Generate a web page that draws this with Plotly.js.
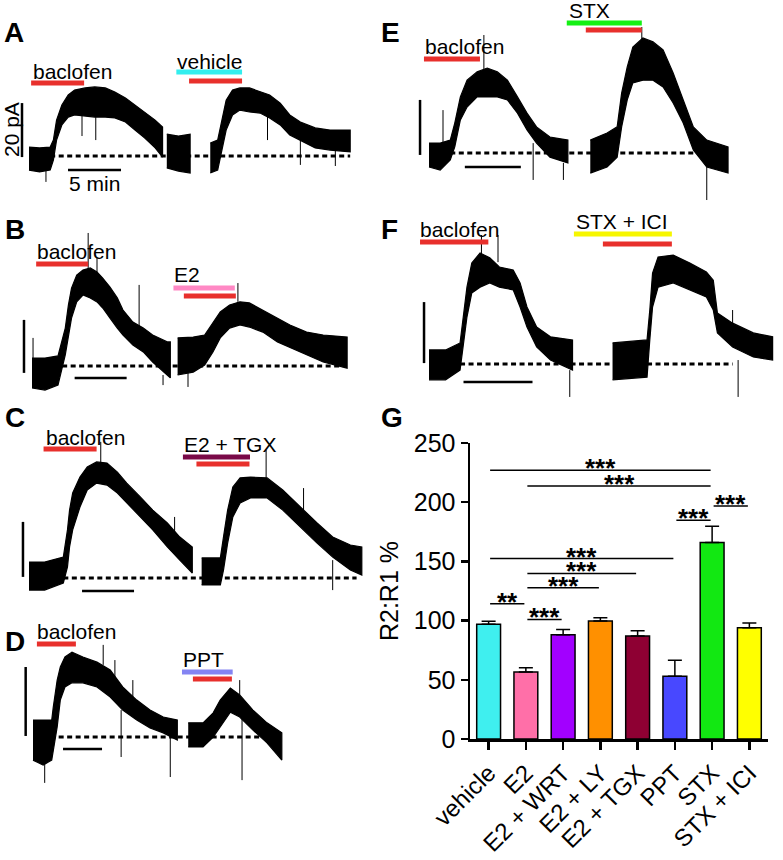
<!DOCTYPE html>
<html><head><meta charset="utf-8">
<script src="https://cdn.plot.ly/plotly-3.0.1.min.js"></script>
<style>html,body{margin:0;padding:0;background:#fff}#chart{width:783px;height:860px}</style>
</head><body><div id="chart"></div>
<script>
// ================= DATA =================
// Panel G: R2:R1 ratio (%)
const categories = ['vehicle', 'E2', 'E2 + WRT', 'E2 + LY', 'E2 + TGX', 'PPT', 'STX', 'STX + ICI'];
const ratioMean = [97, 56.5, 88, 99.6, 87, 53, 166, 94];
const ratioSEM = [2.5, 3.7, 4.5, 2.8, 4.5, 13.5, 13.7, 4.0];
const barColors = ['#3FEFEF', '#FF6FA8', '#A200FF', '#FF9000', '#8E0033', '#4848FF', '#12E812', '#FFFF00'];
// significance comparisons (category index from/to, bracket level in %, label)
const sigFrom = [0, 1, 6, 5, 0, 1, 1, 0, 1];
const sigTo = [6, 6, 7, 6, 5, 4, 3, 1, 2];
const sigLevel = [227, 213.7, 196.8, 184.8, 152.4, 139.8, 127.7, 114.2, 101];
const sigLabel = ['***', '***', '***', '***', '***', '***', '***', '**', '***'];

// Current traces: time (min), upper / lower noise envelope (pA, relative to baseline)
// Panel A
const tA1 = [0, 1.0, 2.0, 2.3, 2.6, 3.1, 3.7, 4.3, 5.3, 6.2, 7.2, 8.1, 9.1, 10.0, 10.9, 11.9, 12.6];
const upA1 = [3.3, 3.0, 3.3, 5.9, 13.3, 18.9, 22.6, 24.4, 25.2, 25.6, 25.2, 23.7, 21.5, 18.9, 16.3, 13.3, 10.7];
const loA1 = [-5.2, -5.9, -5.2, -1.5, 5.9, 11.5, 14.4, 15.2, 14.8, 14.4, 14.4, 14.1, 12.6, 9.6, 6.7, 3.0, -0.4];
const tA2 = [13.0, 14.1, 15.2];
const upA2 = [8.1, 7.4, 8.1];
const loA2 = [-4.4, -5.6, -6.3];
const tA3 = [17.1, 17.8, 18.2, 18.6, 19.2, 19.9, 20.8, 21.8, 22.7, 23.7, 24.6, 25.6, 27.0, 28.4, 30.3];
const upA3 = [4.8, 5.9, 13.3, 20.7, 24.4, 25.2, 25.2, 23.7, 22.6, 19.6, 15.2, 12.6, 10.4, 9.6, 9.6];
const loA3 = [-6.3, -5.2, 2.2, 9.6, 15.2, 17.0, 16.3, 15.9, 14.1, 11.5, 7.8, 5.9, 3.0, 2.2, 1.5];
const spkTA = [5.0, 6.3, 22.5, 25.6, 28.9, 1.6];
const spkFromA = [15.2, 14.4, 15.9, 5.9, 2.2, -3.3];
const spkToA = [7.4, 5.9, 5.9, -3.3, -3.7, -9.6];
const appA = [[0.2, 5.2], [13.9, 20.1], [15.1, 20.1]]; // baclofen, vehicle, baclofen
// Panel B
const tB1 = [0, 1.25, 2.5, 3.2, 3.5, 3.8, 4.3, 4.9, 5.6, 6.25, 6.8, 7.5, 8.2, 8.75, 9.7, 10.7, 11.6, 13.0, 13.3];
const upB1 = [3.0, 3.0, 3.8, 14.3, 23.0, 29.4, 34.3, 36.2, 37.0, 35.5, 33.2, 29.8, 25.7, 21.1, 16.6, 14.3, 11.7, 9.1, 9.1];
const loB1 = [-8.3, -9.1, -7.2, 4.2, 11.7, 18.1, 24.2, 26.8, 25.7, 24.2, 21.9, 18.1, 14.3, 11.7, 7.9, 5.3, 1.5, -3.4, -4.5];
const tB2 = [14.0, 15.5, 16.6, 17.4, 18.1, 19.0, 20.0, 20.9, 22.2, 23.6, 24.8, 26.4, 28.0, 30.3];
const upB2 = [10.6, 10.9, 11.7, 16.6, 20.4, 23.0, 24.2, 23.8, 21.1, 18.1, 15.5, 12.8, 11.7, 10.9];
const loB2 = [-3.4, -2.3, 0.4, 5.3, 10.6, 14.3, 15.5, 14.7, 12.8, 9.1, 6.8, 4.2, 1.5, -0.8];
const spkTB = [5.4, 6.25, 10.3, 19.8, 12.6, 15.0, 0.1];
const spkFromB = [37.0, 35.5, 14.3, 24.2, -3.4, -2.3, 3.0];
const spkToB = [50.2, 40.8, 30.6, 31.3, -7.2, -7.9, 10.6];
const appB = [[0.4, 5.4], [13.6, 19.5], [14.6, 19.6]]; // baclofen, E2, baclofen
// Panel C
const tC1 = [0, 1.5, 3.3, 3.7, 3.9, 4.2, 4.9, 5.6, 6.5, 7.5, 8.5, 9.4, 10.7, 11.9, 13.3, 14.5, 15.7];
const upC1 = [5.8, 5.8, 7.6, 17.5, 24.7, 30.9, 36.7, 40.4, 42.2, 41.8, 38.5, 34.5, 29.5, 24.7, 20.0, 14.9, 11.3];
const loC1 = [-4.4, -4.4, -1.8, 4.0, 11.3, 17.5, 25.8, 32.0, 34.5, 33.8, 30.9, 27.3, 22.2, 17.5, 11.3, 6.5, 1.8];
const tC2 = [16.6, 18.4, 18.7, 19.1, 19.6, 20.3, 21.3, 22.9, 24.4, 26.1, 27.7, 29.2, 30.9, 32.0];
const upC2 = [7.3, 7.3, 14.9, 24.7, 33.1, 36.4, 36.7, 36.4, 32.0, 25.8, 20.0, 14.9, 12.0, 11.3];
const loC2 = [-2.5, -2.5, 2.9, 12.7, 22.2, 27.3, 29.1, 29.1, 24.7, 18.5, 12.7, 7.6, 2.9, 1.1];
const spkTC = [6.9, 14.0, 22.8, 26.4, 29.2];
const spkFromC = [41.8, 13.8, 36.4, 24.7, 6.5];
const spkToC = [49.5, 22.2, 46.5, 32.7, -4.4];
const appC = [[1.4, 6.5], [14.8, 21.25], [16.1, 21.2]]; // baclofen, E2 + TGX, baclofen
// Panel D
const tD1 = [0, 1.3, 2.4, 2.6, 3.1, 3.5, 4.1, 5.0, 6.4, 8.2, 9.9, 11.5, 13.3, 15.0, 16.7, 18.5];
const upD1 = [4.9, 4.9, 4.9, 8.7, 16.5, 20.3, 23.2, 24.6, 23.2, 21.7, 19.4, 14.5, 10.7, 7.8, 5.8, 4.9];
const loD1 = [-6.7, -8.1, -6.7, -4.6, 2.9, 10.7, 14.5, 15.7, 15.7, 14.5, 11.6, 7.8, 4.9, 2.6, 1.2, -0.9];
const tD2 = [19.9, 21.8, 23.1, 24.0, 25.3, 26.5, 28.2, 30.0, 31.9];
const upD2 = [4.1, 4.1, 7.0, 10.7, 14.2, 12.2, 7.8, 4.1, 1.2];
const loD2 = [-2.9, -2.9, 0, 2.9, 7.2, 5.8, 2.0, -1.7, -6.7];
const spkTD = [9.0, 10.5, 12.8, 11.3, 17.6, 26.5, 26.8, 1.5];
const spkFromD = [20.9, 16.5, 10.7, 7.8, 0.6, 12.2, 5.8, -6.7];
const spkToD = [26.7, 22.3, 16.5, -5.8, -11.6, 16.5, -12.5, -13.3];
const appD = [[0.5, 5.5], [19.1, 25.6], [20.5, 25.5]]; // baclofen, PPT, baclofen
// Panel E
const tE1 = [0, 1.0, 1.9, 2.3, 2.8, 3.4, 4.3, 5.2, 6.1, 7.0, 7.9, 8.75, 9.6, 10.8, 12.4];
const upE1 = [3.6, 3.6, 4.7, 10.9, 20.4, 26.5, 29.5, 30.9, 29.5, 26.5, 20.4, 14.5, 9.5, 5.8, 4.7];
const loE1 = [-5.1, -6.2, -2.5, 2.2, 12.0, 16.7, 20.4, 20.4, 20.4, 19.3, 14.5, 8.4, 3.6, -1.5, -3.6];
const tE2 = [14.4, 15.9, 16.8, 17.2, 17.7, 18.2, 19.1, 20.0, 20.9, 21.8, 22.7, 23.6, 24.8, 26.7];
const upE2 = [4.7, 7.3, 9.5, 21.8, 31.3, 38.5, 41.8, 40.4, 37.5, 29.1, 19.3, 9.5, 4.7, 2.2];
const loE2 = [-7.3, -5.1, -1.5, 9.5, 19.3, 25.5, 26.5, 26.5, 24.0, 18.2, 10.9, 1.1, -5.1, -7.3];
const spkTE = [4.9, 1.25, 19.0, 24.8, 9.3, 12.0];
const spkFromE = [30.2, 3.6, 41.1, -5.1, 3.6, -3.6];
const spkToE = [42.9, 15.6, 45.8, -17.1, -9.8, -9.8];
const appE = [[-0.45, 4.55], [12.3, 19.0], [14.0, 19.0]]; // baclofen, STX, baclofen
// Panel F
const tF1 = [0, 1.2, 2.25, 2.5, 2.75, 3.1, 3.7, 4.4, 5.1, 6.1, 6.6, 7.1, 7.8, 8.8, 10.4];
const upF1 = [4.6, 4.6, 6.9, 16.7, 25.2, 33.1, 36.4, 34.8, 31.8, 30.8, 26.6, 18.7, 12.1, 8.9, 7.9];
const loF1 = [-5.2, -5.2, -2.0, 6.9, 15.4, 23.3, 25.2, 26.6, 25.2, 24.3, 18.7, 12.1, 5.6, 1.3, -2.0];
const tF2 = [13.3, 15.8, 16.0, 16.2, 16.6, 17.7, 18.9, 20.1, 20.6, 20.9, 22.0, 23.5, 24.9];
const upF2 = [6.9, 7.9, 17.7, 29.8, 35.1, 35.7, 33.1, 30.2, 27.5, 16.7, 13.4, 10.2, 8.9];
const loF2 = [-5.2, -4.3, 7.9, 18.7, 25.2, 26.6, 24.3, 22.0, 17.7, 10.2, 5.6, 2.3, 1.3];
const spkTF = [3.8, 5.0, 22.0, 22.4, 10.2];
const spkFromF = [35.7, 33.4, 12.8, 1.3, -2.0];
const spkToF = [42.3, 42.3, 17.7, -10.8, -10.8];
const appF = [[-0.65, 4.3], [10.5, 17.6], [12.6, 17.6]]; // baclofen, STX + ICI, baclofen

const scaleBarPA = 20;   // vertical scale bar (pA)
const scaleBarMin = 5;   // horizontal scale bar (min)

// ================= LAYOUT / STYLE =================
const W = 783, H = 860;
const FONT = 'Liberation Sans, Arial, Helvetica, sans-serif';
const px = x => x / W;
const py = y => 1 - y / H;
const RED = '#E8302C';

const panels = [
  { n: 2, letter: 'A', letterPos: [3, 43], geo: { x0: 29, ppm: 10.6, y0: 156, ppa: 2.7 },
    segs: [[tA1, upA1, loA1], [tA2, upA2, loA2], [tA3, upA3, loA3]], spk: [spkTA, spkFromA, spkToA],
    dash: [2.0, 30.3], vbar: [-0.66, -0.4], hbar: [3.68, -5.2],
    apps: appA, appColors: [RED, '#33EEEE', RED], appY: [83, 72, 81],
    labels: [['baclofen', 32, 80], ['vehicle', 176, 70]] },
  { n: 3, letter: 'B', letterPos: [4, 240], geo: { x0: 32, ppm: 10.4, y0: 366, ppa: 2.65 },
    segs: [[tB1, upB1, loB1], [tB2, upB2, loB2]], spk: [spkTB, spkFromB, spkToB],
    dash: [2.9, 29.9], vbar: [-0.77, -2.6], hbar: [4.1, -4.5],
    apps: appB, appColors: [RED, '#FF88C4', RED], appY: [264, 288, 296],
    labels: [['baclofen', 36, 260], ['E2', 173, 283]] },
  { n: 4, letter: 'C', letterPos: [4, 428], geo: { x0: 29, ppm: 10.4, y0: 578, ppa: 2.75 },
    segs: [[tC1, upC1, loC1], [tC2, upC2, loC2]], spk: [spkTC, spkFromC, spkToC],
    dash: [3.3, 31.5], vbar: [-0.58, 0.4], hbar: [5.1, -4.7],
    apps: appC, appColors: [RED, '#7A0A48', RED], appY: [449, 457, 464],
    labels: [['baclofen', 45, 446], ['E2 + TGX', 183, 453]] },
  { n: 5, letter: 'D', letterPos: [4, 652], geo: { x0: 33, ppm: 7.8, y0: 737, ppa: 3.45 },
    segs: [[tD1, upD1, loD1], [tD2, upD2, loD2]], spk: [spkTD, spkFromD, spkToD],
    dash: [2.2, 29.5], vbar: [-0.94, 0.3], hbar: [3.85, -3.5],
    apps: appD, appColors: [RED, '#8484F2', RED], appY: [644, 672, 679],
    labels: [['baclofen', 36, 640], ['PPT', 182, 668]] },
  { n: 6, letter: 'E', letterPos: [380, 43], geo: { x0: 429, ppm: 11.2, y0: 153, ppa: 2.75 },
    segs: [[tE1, upE1, loE1], [tE2, upE2, loE2]], spk: [spkTE, spkFromE, spkToE],
    dash: [1.9, 23.6], vbar: [-0.8, -0.7], hbar: [3.2, -5.1],
    apps: appE, appColors: [RED, '#14F014', RED], appY: [59, 23, 30],
    labels: [['baclofen', 424, 55], ['STX', 568, 19]] },
  { n: 7, letter: 'F', letterPos: [380, 240], geo: { x0: 429, ppm: 13.8, y0: 364, ppa: 3.05 },
    segs: [[tF1, upF1, loF1], [tF2, upF2, loF2]], spk: [spkTF, spkFromF, spkToF],
    dash: [2.25, 22.0], vbar: [-0.36, 0.3], hbar: [2.5, -5.9],
    apps: appF, appColors: [RED, '#F6F600', RED], appY: [242, 234, 244],
    labels: [['baclofen', 419, 238], ['STX + ICI', 575, 230]] }
];

const traces = [];
const shapes = [];
const annotations = [];
const layout = {
  width: W, height: H, margin: { l: 0, r: 0, t: 0, b: 0 },
  paper_bgcolor: '#fff', plot_bgcolor: 'rgba(0,0,0,0)', showlegend: false,
  font: { family: FONT, color: '#000' }
};

function textAt(text, left, base, size) {
  return { xref: 'paper', yref: 'paper', x: px(left), y: py(base + 0.212 * size), borderpad: 0,
    xanchor: 'left', yanchor: 'bottom', text: text, showarrow: false,
    font: { family: FONT, size: size, color: '#000' } };
}

panels.forEach(p => {
  const g = p.geo, xa = 'x' + p.n, ya = 'y' + p.n;
  layout['xaxis' + p.n] = { domain: [0, 1], range: [-g.x0 / g.ppm, (W - g.x0) / g.ppm], visible: false, fixedrange: true, anchor: ya };
  layout['yaxis' + p.n] = { domain: [0, 1], range: [(g.y0 - H) / g.ppa, g.y0 / g.ppa], visible: false, fixedrange: true, anchor: xa };
  // baseline (0 pA)
  shapes.push({ type: 'line', xref: xa, yref: ya, x0: p.dash[0], x1: p.dash[1], y0: 0, y1: 0, layer: 'below',
    line: { color: '#000', width: 3, dash: '5px,3.5px' } });
  // recording segments (noise envelope)
  p.segs.forEach(s => {
    const [t, up, lo] = s;
    traces.push({ type: 'scatter', mode: 'lines', xaxis: xa, yaxis: ya,
      x: t.concat(t.slice().reverse()), y: up.concat(lo.slice().reverse()),
      fill: 'toself', fillcolor: '#000', line: { color: '#000', width: 1.2 }, hoverinfo: 'skip' });
  });
  // transient spikes
  const sx = [], sy = [];
  p.spk[0].forEach((t, i) => { sx.push(t, t, null); sy.push(p.spk[1][i], p.spk[2][i], null); });
  traces.push({ type: 'scatter', mode: 'lines', xaxis: xa, yaxis: ya, x: sx, y: sy,
    line: { color: '#000', width: 1 }, hoverinfo: 'skip', connectgaps: false });
  // scale bars
  shapes.push({ type: 'line', xref: xa, yref: ya, x0: p.vbar[0], x1: p.vbar[0], y0: p.vbar[1], y1: p.vbar[1] + scaleBarPA,
    line: { color: '#000', width: 2.5 } });
  shapes.push({ type: 'line', xref: xa, yref: ya, x0: p.hbar[0], x1: p.hbar[0] + scaleBarMin, y0: p.hbar[1], y1: p.hbar[1],
    line: { color: '#000', width: 2.5 } });
  // drug application bars
  p.apps.forEach((a, i) => {
    shapes.push({ type: 'line', xref: xa, yref: 'paper', x0: a[0], x1: a[1], y0: py(p.appY[i]), y1: py(p.appY[i]),
      line: { color: p.appColors[i], width: 5 } });
  });
  p.labels.forEach(l => annotations.push(textAt(l[0], l[1], l[2], 21)));
  annotations.push(textAt('<b>' + p.letter + '</b>', p.letterPos[0], p.letterPos[1], 28));
});

// Panel A scale bar labels
annotations.push({ xref: 'paper', yref: 'paper', x: px(11), y: py(130), xanchor: 'center', yanchor: 'middle',
  text: '20 pA', textangle: -90, showarrow: false, font: { family: FONT, size: 21, color: '#000' } });
annotations.push(textAt('5 min', 68, 192, 21));
annotations.push(textAt('<b>G</b>', 380, 428, 28));

// ===== Panel G bar chart =====
traces.push({ type: 'bar', x: categories, y: ratioMean, xaxis: 'x', yaxis: 'y', width: 0.64,
  marker: { color: barColors, line: { color: '#000', width: 1.5 } },
  error_y: { type: 'data', symmetric: false, array: ratioSEM, arrayminus: ratioSEM.map(() => 0),
    color: '#000', thickness: 1.5, width: 7 },
  hoverinfo: 'skip' });

layout.xaxis = { domain: [px(470), px(768)], anchor: 'y', type: 'category', range: [-0.5, 7.5],
  showline: true, linecolor: '#000', linewidth: 2.5, ticks: 'outside', ticklen: 8, tickwidth: 2.5, tickcolor: '#000',
  tickangle: -45, tickfont: { family: FONT, size: 24, color: '#000' }, showgrid: false, zeroline: false, fixedrange: true };
layout.yaxis = { domain: [py(739), py(443)], anchor: 'x', range: [0, 250], tick0: 0, dtick: 50,
  showline: true, linecolor: '#000', linewidth: 2.5, ticks: 'outside', ticklen: 7, tickwidth: 2.5, tickcolor: '#000',
  tickfont: { family: FONT, size: 25, color: '#000' }, showgrid: false, zeroline: false, fixedrange: true,
  title: { text: 'R2:R1 %', font: { family: FONT, size: 25, color: '#000' }, standoff: 8 } };

sigFrom.forEach((a, i) => {
  const b = sigTo[i];
  shapes.push({ type: 'line', xref: 'x', yref: 'y', x0: a + 0.04, x1: b - 0.04, y0: sigLevel[i], y1: sigLevel[i],
    line: { color: '#000', width: 1.5 } });
  annotations.push({ xref: 'x', yref: 'y', x: (a + b) / 2, y: sigLevel[i], yshift: -14, xanchor: 'center', yanchor: 'bottom',
    borderpad: 0, text: '<b>' + sigLabel[i] + '</b>', showarrow: false, font: { family: FONT, size: 26, color: '#000' } });
});

layout.shapes = shapes;
layout.annotations = annotations;
Plotly.newPlot('chart', traces, layout, { displayModeBar: false, staticPlot: true });
</script>
</body></html>
